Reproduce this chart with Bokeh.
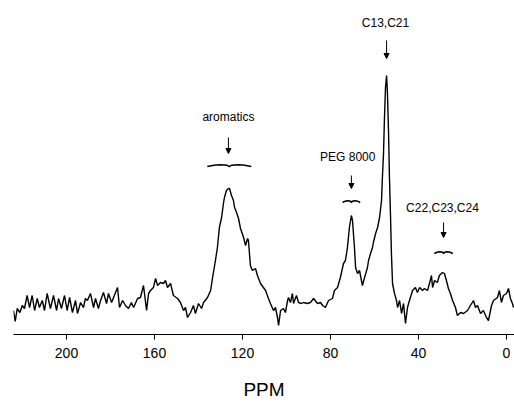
from bokeh.plotting import figure
from bokeh.models import Range1d, FixedTicker, Arrow, NormalHead, ColumnDataSource
from bokeh.core.properties import value
from bokeh.embed import file_html
from bokeh.resources import INLINE

# chemical shift (ppm) and signal intensity (arbitrary units)
ppm = [
    224.1, 223.3, 222.4, 221.2, 220.1, 219.1, 217.9, 216.8, 215.6, 214.5, 213.3, 212.3,
    211.0, 210.0, 208.8, 207.3, 205.9, 204.5, 203.6, 202.3, 200.9, 199.7, 198.6, 197.3,
    195.9, 195.0, 193.6, 192.3, 191.4, 190.5, 189.1, 187.7, 186.8, 185.5, 184.5, 183.2,
    181.8, 180.9, 179.5, 178.6, 176.8, 175.9, 174.5, 173.2, 171.8, 170.5, 169.5, 167.7,
    166.4, 165.0, 163.6, 162.7, 161.8, 160.5, 159.5, 158.6, 157.3, 155.9, 155.0, 154.1,
    152.7, 151.4, 149.5, 148.2, 146.8, 145.9, 145.0, 143.6, 142.3, 141.4, 140.0, 138.6,
    137.7, 135.9, 134.5, 133.6, 132.3, 131.4, 130.5, 129.5, 128.6, 128.2, 127.3, 126.4,
    125.9, 125.0, 124.1, 123.6, 122.7, 121.8, 120.9, 119.5, 118.6, 117.7, 117.3, 116.4,
    115.5, 114.1, 113.2, 111.8, 110.5, 109.5, 108.2, 107.3, 105.9, 105.0, 104.1, 103.6,
    102.7, 101.4, 100.5, 99.5, 99.1, 98.2, 97.3, 96.8, 95.5, 94.5, 93.2, 92.3,
    90.5, 89.1, 87.7, 85.9, 84.5, 83.6, 82.3, 80.9, 79.1, 78.2, 76.8, 75.5,
    74.1, 73.2, 72.3, 71.4, 70.5, 70.0, 69.1, 68.6, 67.7, 66.8, 65.5, 64.5,
    63.2, 62.7, 61.8, 60.9, 60.5, 59.5, 58.6, 57.7, 56.8, 56.4, 55.9, 55.5,
    55.0, 54.5, 54.1, 53.6, 53.2, 52.7, 52.3, 51.8, 50.9, 50.0, 49.5, 48.6,
    47.7, 46.8, 45.9, 45.0, 44.1, 42.7, 41.4, 40.5, 39.5, 38.2, 37.3, 35.9,
    35.0, 34.1, 33.6, 32.7, 31.4, 30.5, 29.1, 28.2, 27.3, 26.4, 25.5, 24.5,
    23.2, 22.3, 20.9, 19.5, 17.7, 16.4, 15.0, 14.1, 13.2, 11.8, 10.5, 9.1,
    8.2, 6.8, 5.9, 4.1, 3.2, 2.3, 1.4, 0.0, -0.9, -1.8, -2.7, -3.2,
]
intensity = [
    24, 13, 26, 22, 29, 26, 39, 27, 39, 24, 36, 27,
    34, 24, 41, 26, 39, 24, 36, 26, 39, 24, 37, 22,
    34, 21, 32, 27, 36, 34, 41, 27, 36, 26, 34, 42,
    31, 41, 32, 37, 47, 27, 34, 29, 26, 32, 27, 36,
    37, 49, 24, 41, 44, 47, 56, 49, 52, 51, 54, 47,
    51, 39, 36, 32, 24, 27, 17, 22, 29, 21, 31, 26,
    32, 37, 44, 57, 74, 87, 107, 117, 132, 137, 144, 146,
    146, 139, 134, 127, 122, 116, 106, 97, 89, 96, 94, 69,
    64, 66, 59, 51, 47, 44, 36, 31, 24, 27, 17, 9,
    24, 26, 22, 34, 37, 32, 41, 31, 39, 32, 31, 32,
    31, 32, 36, 31, 32, 29, 27, 34, 36, 44, 47, 57,
    71, 74, 87, 107, 119, 114, 87, 67, 61, 64, 49, 57,
    67, 74, 81, 87, 92, 101, 107, 117, 134, 157, 181, 214,
    247, 259, 241, 201, 157, 117, 81, 51, 41, 34, 27, 34,
    21, 31, 11, 27, 34, 44, 47, 42, 47, 44, 46, 44,
    51, 59, 47, 54, 52, 59, 62, 61, 54, 46, 41, 34,
    27, 19, 22, 21, 24, 29, 34, 27, 29, 21, 24, 17,
    14, 29, 34, 37, 44, 32, 39, 41, 46, 36, 31, 27,
]

tick_values = [200, 160, 120, 80, 40, 0]

labels = ["aromatics", "PEG  8000", "C13,C21", "C22,C23,C24"]
label_ppm = [126.4, 71.4, 55.0, 29.1]
label_int = [218, 178, 312, 127]
arrow_ppm = [126.4, 70.5, 54.5, 28.6]
arrow_top = [197, 159, 294, 112]
arrow_bottom = [181, 146, 276, 97]
brace_ppm = [126.0, 70.5, None, 28.6]
brace_int = [169, 133, None, 82]
brace_half = [10.0, 4.0, None, 4.2]

FONT = "Liberation Sans"

p = figure(width=514, height=411, output_backend="svg", toolbar_location=None,
           x_range=Range1d(224.09, -3.64), y_range=Range1d(0, 324),
           min_border_left=13, min_border_right=0, min_border_top=10, min_border_bottom=77)
p.outline_line_color = None
p.xgrid.visible = False
p.ygrid.visible = False
p.yaxis.visible = False
p.background_fill_color = "white"

p.line(ppm, intensity, line_color="black", line_width=1.4)

ax = p.xaxis[0]
ax.ticker = FixedTicker(ticks=tick_values)
ax.minor_tick_line_color = None
ax.major_tick_in = 0
ax.major_tick_out = 5
ax.axis_line_color = "black"
ax.axis_line_width = 1.2
ax.major_label_standoff = 8
ax.major_label_text_font = FONT
ax.major_label_text_font_size = "14px"
ax.major_label_text_color = "black"
ax.axis_label = "PPM"
ax.axis_label_text_font = FONT
ax.axis_label_text_font_size = "19px"
ax.axis_label_text_font_style = "normal"
ax.axis_label_text_color = "black"
ax.axis_label_standoff = 18

src = ColumnDataSource(dict(x=label_ppm, y=label_int, t=labels))
p.text(x="x", y="y", text="t", source=src, text_font=value(FONT), text_font_size="12px",
       text_align="center", text_baseline="middle", text_color="black")

for xa, yt, yb in zip(arrow_ppm, arrow_top, arrow_bottom):
    p.add_layout(Arrow(x_start=xa, y_start=yt, x_end=xa, y_end=yb, line_width=1,
                       line_color="black",
                       end=NormalHead(size=5, fill_color="black", line_color="black")))

# small braces drawn over the labelled peaks
shape_u = [-1.0, -0.7, -0.45, -0.2, -0.07, 0.0, 0.07, 0.2, 0.45, 0.7, 1.0]
shape_v = [-1.0, 0.3, 0.8, 0.5, 0.0, -1.2, 0.0, 0.5, 0.8, 0.3, -1.0]
for bx, by, bh in zip(brace_ppm, brace_int, brace_half):
    if bx is None:
        continue
    xs = [bx + u * bh for u in shape_u]
    ys = [by + v * 1.0 for v in shape_v]
    p.line(xs, ys, line_color="black", line_width=1.5)

open("out.html", "w").write(file_html(p, INLINE))
